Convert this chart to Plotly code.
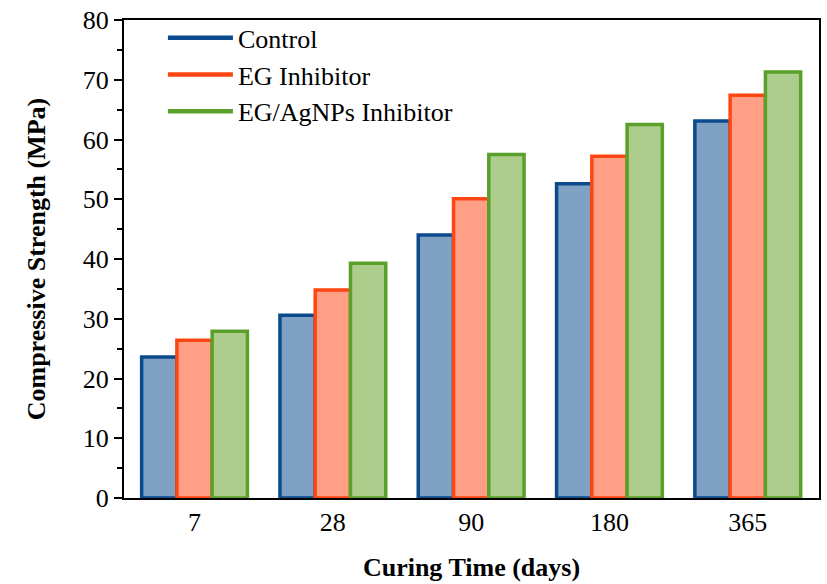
import plotly.graph_objects as go

# Compressive strength of concrete specimens at each curing age
curing_days = ["7", "28", "90", "180", "365"]
control = [23.6, 30.6, 44.0, 52.6, 63.1]
eg_inhibitor = [26.4, 34.8, 50.1, 57.2, 67.4]
eg_agnps_inhibitor = [27.9, 39.3, 57.5, 62.5, 71.3]

series_names = ["Control", "EG Inhibitor", "EG/AgNPs Inhibitor"]
edge_colors = ["#0B4A8C", "#FF4612", "#5AA02A"]
fill_colors = ["#7FA2C4", "#FF9F86", "#ADCD8C"]

FONT = "Times New Roman, Liberation Serif, serif"

fig = go.Figure()
for name, values, edge, fill in zip(series_names,
                                    [control, eg_inhibitor, eg_agnps_inhibitor],
                                    edge_colors, fill_colors):
    fig.add_trace(go.Bar(
        x=curing_days, y=values, name=name, showlegend=False,
        marker=dict(color=fill, line=dict(color=edge, width=3.5)),
    ))
# legend entries drawn as coloured lines
for name, edge in zip(series_names, edge_colors):
    fig.add_trace(go.Scatter(
        x=[None], y=[None], mode="lines", name=name,
        line=dict(color=edge, width=4.5),
    ))

fig.update_layout(
    width=827, height=584,
    margin=dict(l=124, r=6, t=16, b=86),
    paper_bgcolor="white", plot_bgcolor="white",
    barmode="group", bargap=0.235, bargroupgap=0,
    font=dict(family=FONT, size=26, color="black"),
    legend=dict(x=0.056, y=1.012, xanchor="left", yanchor="top",
                bgcolor="rgba(0,0,0,0)", font=dict(size=26),
                itemwidth=65, tracegroupgap=0),
    xaxis=dict(
        range=[-0.51, 4.515],
        showline=True, linecolor="black", linewidth=2, mirror=True,
        ticks="", showgrid=False,
        title=dict(text="<b>Curing Time (days)</b>", font=dict(size=26), standoff=22),
        tickfont=dict(size=26),
    ),
    yaxis=dict(
        range=[0, 80], tick0=0, dtick=10,
        showline=True, linecolor="black", linewidth=2, mirror=True,
        ticks="outside", ticklen=8, tickwidth=2, tickcolor="black",
        minor=dict(dtick=5, ticks="outside", ticklen=5, tickwidth=2, tickcolor="black"),
        showgrid=False, zeroline=False,
        title=dict(text="<b>Compressive Strength (MPa)</b>", font=dict(size=26), standoff=30),
        tickfont=dict(size=26),
    ),
)

fig.write_html("out.html")
